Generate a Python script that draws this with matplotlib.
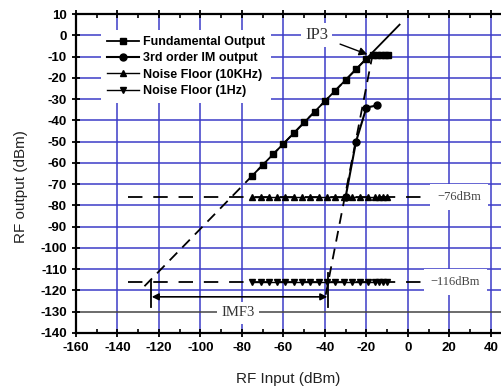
import matplotlib
matplotlib.use("Agg")
from matplotlib import pyplot as plt

# fundamental output (measured) and its slope-1 fit
fund_x = [-75, -70, -65, -60, -55, -50, -45, -40, -35, -30, -25, -20, -17, -15, -13, -11, -9.5]
fund_y = [-66, -61, -56, -51, -46, -41, -36, -31, -26, -21, -16, -11, -9.5, -9.5, -9.5, -9.5, -9.5]
fund_fit_x = [-127, -20]
fund_fit_y = [-118, -11]
fund_ext_x = [-20, -4]
fund_ext_y = [-11, 5]

# 3rd order IM output and its fit
im3_x = [-30, -25, -20, -15]
im3_y = [-76, -50, -34, -33]
im3_fit_x = [-39.6, -17.2]
im3_fit_y = [-122, -10]

# noise floors
nf_x = [-75, -71, -67, -63, -59, -55, -51, -47, -43, -39, -35, -31, -27, -23, -19, -16, -14, -12, -10]
nf10_y = [-76] * len(nf_x)
nf1_y = [-116] * len(nf_x)
nf10_level = -76
nf1_level = -116
floor_span = [-135, 8]

xticks = list(range(-160, 41, 20))
yticks = list(range(-140, 11, 10))

grid_c = "#3c3cc8"
serif = ["Liberation Serif", "DejaVu Serif"]

fig = plt.figure(figsize=(5.02, 3.89), dpi=100)
ax = fig.add_axes([0.1514, 0.144, 0.909, 0.820])
ax.set_xlim(-160, 60)
ax.set_ylim(-140, 10)

# grid
for gx in xticks[1:]:
    ax.axvline(gx, color=grid_c, lw=1.1, zorder=1)
for gy in yticks[1:-1]:
    ax.axhline(gy, color="#444444" if gy == -130 else grid_c, lw=1.1, zorder=1)

# fits
ax.plot(fund_fit_x, fund_fit_y, color="k", lw=1.3, ls=(0, (6, 4)), zorder=3)
ax.plot(fund_ext_x, fund_ext_y, color="k", lw=1.3, zorder=3)
ax.plot(im3_fit_x, im3_fit_y, color="k", lw=1.3, ls=(0, (6, 4)), zorder=3)
ax.plot(floor_span, [nf10_level] * 2, color="k", lw=1.3, ls=(0, (8, 6)), zorder=3)
ax.plot(floor_span, [nf1_level] * 2, color="k", lw=1.3, ls=(0, (8, 6)), zorder=3)

# data
ax.plot(fund_x, fund_y, "-s", color="k", ms=4.2, lw=1.3, label="Fundamental Output", zorder=4)
ax.plot(im3_x, im3_y, "-o", color="k", ms=5, lw=1.5, label="3rd order IM output", zorder=4)
ax.plot(nf_x, nf10_y, "-^", color="k", ms=4.5, lw=1.0, label="Noise Floor (10KHz)", zorder=4)
ax.plot(nf_x, nf1_y, "-v", color="k", ms=4.5, lw=1.0, label="Noise Floor (1Hz)", zorder=4)

# annotations
box = dict(facecolor="white", edgecolor="none", pad=3)
ax.annotate("IP3", xy=(-19.5, -9), xytext=(-44, 0), fontsize=12, family=serif,
            color="#333333", ha="center", va="center", bbox=box, zorder=6,
            arrowprops=dict(arrowstyle="-|>", color="k", lw=1.0, shrinkA=6, shrinkB=0))
ax.text(14, nf10_level, "\u221276dBm", fontsize=9, family=serif, color="#444444",
        va="center", ha="left", bbox=dict(facecolor="white", edgecolor="none", pad=5), zorder=6)
ax.text(11, nf1_level, "\u2212116dBm", fontsize=9, family=serif, color="#444444",
        va="center", ha="left", bbox=dict(facecolor="white", edgecolor="none", pad=5), zorder=6)

ax.annotate("", xy=(-123.5, -123), xytext=(-38.8, -123),
            arrowprops=dict(arrowstyle="<|-|>", color="k", lw=1.2, shrinkA=0, shrinkB=0), zorder=5)
ax.plot([-123.9, -123.9], [-115, -128], color="k", lw=1.3, zorder=5)
ax.plot([-38.5, -38.5], [-112, -128], color="k", lw=1.3, zorder=5)
ax.text(-82, -130.5, "IMF3", fontsize=10.5, family=serif, color="#333333",
        ha="center", va="center", bbox=box, zorder=6)

leg = ax.legend(loc="upper left", bbox_to_anchor=(0.04, 0.97), frameon=True, fancybox=False,
                edgecolor="none", facecolor="white", framealpha=1,
                prop=dict(family="Liberation Sans", weight="bold", size=9),
                handlelength=2.6, handletextpad=0.3, labelspacing=0.35, borderpad=0.5)
leg.set_zorder(5)

# axes styling
ax.set_xticks(xticks)
ax.set_yticks(yticks)
ax.set_xticks(range(-150, 60, 20), minor=True)
for s in ax.spines.values():
    s.set_linewidth(1.6)
ax.tick_params(which="major", direction="inout", length=6, width=1.3, top=True,
               labelsize=9.5)
ax.tick_params(which="minor", direction="in", length=3, width=1.2, top=True)
ax.set_xticklabels([str(t) for t in xticks])
ax.set_yticklabels([str(t) for t in yticks])
for lab in ax.get_xticklabels() + ax.get_yticklabels():
    lab.set_family("Liberation Sans")
    lab.set_fontweight("bold")

fig.text(0.575, 0.025, "RF Input (dBm)", ha="center", va="center", fontsize=11,
         family="Liberation Sans", color="#222222")
fig.text(0.042, 0.52, "RF output (dBm)", ha="center", va="center", rotation=90, fontsize=11,
         family="Liberation Sans", color="#222222")

fig.savefig("out.png", dpi=100)
